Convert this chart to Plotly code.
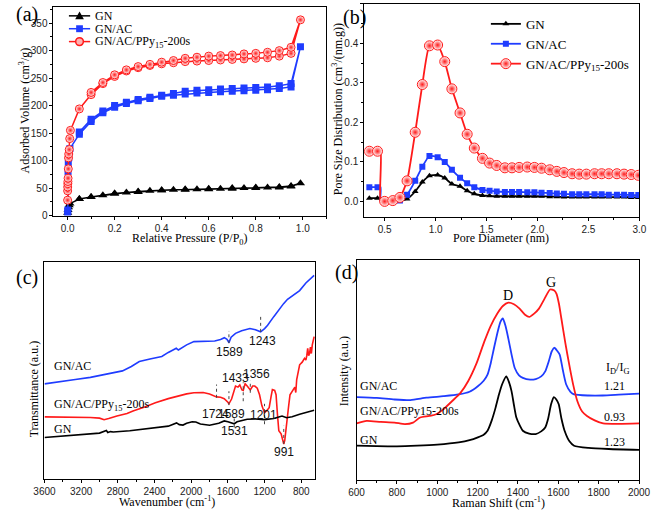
import plotly.graph_objects as go

W, H = 661, 515
SERIF = "Liberation Serif"
SANS = "Liberation Sans"
BLACK, BLUE, RED = "#000000", "#1f3cff", "#ff1a1a"

# ---------------- (a) N2 isotherms ----------------
gn_p = [0.0005, 0.002, 0.004, 0.007, 0.01, 0.05, 0.1, 0.15, 0.2, 0.25, 0.3, 0.35, 0.4, 0.45, 0.5, 0.55, 0.6,
        0.65, 0.7, 0.75, 0.8, 0.85, 0.9, 0.95, 0.99, 0.95, 0.9, 0.8, 0.7, 0.6, 0.5, 0.4, 0.3, 0.2, 0.1, 0.05]
gn_v = [5, 10, 15, 19, 22, 30, 34, 37, 40, 42, 43, 45, 46, 47, 47, 48, 48,
        49, 49, 50, 50, 51, 51, 53, 59, 54, 52, 51, 50, 49, 48, 46, 44, 40, 34, 30]
ac_p = [0.0003, 0.001, 0.002, 0.003, 0.005, 0.007, 0.01, 0.05, 0.1, 0.15, 0.2, 0.25, 0.3, 0.35, 0.4, 0.45,
        0.5, 0.55, 0.6, 0.65, 0.7, 0.75, 0.8, 0.85, 0.9, 0.95, 0.99,
        0.95, 0.9, 0.85, 0.8, 0.75, 0.7, 0.65, 0.6, 0.55, 0.5, 0.45, 0.4, 0.35, 0.3, 0.25, 0.2, 0.15, 0.1, 0.05]
ac_v = [5, 10, 80, 95, 105, 115, 122, 148, 171, 187, 197, 204, 209, 213, 217, 219,
        221, 223, 224, 225, 226, 227, 228, 229, 231, 234, 307,
        240, 236, 234, 233, 232, 231, 230, 229, 228, 226, 222, 219, 215, 211, 206, 200, 190, 175, 152]
pp_p = [0.0001, 0.0003, 0.0006, 0.001, 0.0015, 0.002, 0.003, 0.004, 0.005, 0.007, 0.009, 0.012, 0.05, 0.1,
        0.15, 0.2, 0.25, 0.3, 0.35, 0.4, 0.45, 0.5, 0.55, 0.6, 0.65, 0.7, 0.75, 0.8, 0.85, 0.9, 0.95, 0.99,
        0.95, 0.9, 0.85, 0.8, 0.75, 0.7, 0.65, 0.6, 0.55, 0.5, 0.45, 0.4, 0.35, 0.3, 0.25, 0.2, 0.15, 0.1]
pp_v = [28, 45, 52, 58, 62, 68, 85, 105, 112, 120, 140, 155, 194, 220,
        240, 253, 263, 269, 273, 276, 278, 280, 281, 282, 283, 284, 285, 286, 287, 290, 295, 356,
        306, 300, 297, 295, 294, 292, 291, 290, 288, 286, 282, 279, 275, 271, 265, 256, 242, 224]
names_a = ["GN", "GN/AC", "GN/AC/PPy<sub>15</sub>-200s"]

# ---------------- (b) pore size distribution ----------------
pore_d = [0.35, 0.43, 0.50, 0.58, 0.65, 0.72, 0.80, 0.87, 0.94, 1.02, 1.09, 1.16, 1.24, 1.31, 1.38, 1.46,
          1.53, 1.60, 1.68, 1.75, 1.82, 1.90, 1.97, 2.04, 2.12, 2.19, 2.26, 2.34, 2.41, 2.48, 2.56, 2.63,
          2.70, 2.78, 2.85, 2.92, 2.99]
psd_pp = [0.127, 0.127, 0.000, 0.002, 0.010, 0.052, 0.175, 0.296, 0.394, 0.396, 0.354, 0.285, 0.224, 0.170,
          0.135, 0.109, 0.097, 0.091, 0.085, 0.085, 0.086, 0.087, 0.086, 0.084, 0.080, 0.076, 0.073, 0.070,
          0.069, 0.069, 0.070, 0.070, 0.070, 0.070, 0.069, 0.068, 0.066]
psd_ac = [0.036, 0.036, 0.000, 0.000, 0.002, 0.017, 0.052, 0.088, 0.115, 0.112, 0.100, 0.080, 0.060, 0.046,
          0.036, 0.029, 0.027, 0.025, 0.024, 0.024, 0.024, 0.023, 0.023, 0.022, 0.021, 0.020, 0.019, 0.018,
          0.018, 0.018, 0.018, 0.018, 0.017, 0.017, 0.017, 0.016, 0.016]
psd_gn = [0.008, 0.008, 0.000, 0.000, 0.002, 0.006, 0.025, 0.049, 0.065, 0.067, 0.059, 0.044, 0.038, 0.027,
          0.019, 0.015, 0.014, 0.013, 0.013, 0.013, 0.013, 0.013, 0.013, 0.013, 0.012, 0.012, 0.011, 0.011,
          0.011, 0.011, 0.011, 0.011, 0.011, 0.011, 0.011, 0.010, 0.010]
step_d = 0.46

# ---------------- (c) FTIR ----------------
ir_ac_wn = [3600, 3400, 3264, 3100, 2915, 2750, 2653, 2566, 2450, 2321, 2250, 2163, 2140, 2110, 2050, 1971,
            1850, 1744, 1680, 1639, 1610, 1589, 1565, 1517, 1450, 1360, 1300, 1243, 1200, 1167, 1100, 1040,
            993, 950, 900, 818, 750, 700, 660]
ir_ac = [44, 45, 46, 47, 48.5, 50, 52, 54.3, 55.5, 56.6, 58.5, 60.4, 59.6, 60.5, 62, 63.5,
         63.6, 63.8, 64.5, 65.3, 64.5, 63.0, 65.5, 67.3, 68.5, 69.5, 69, 68.0, 69.5, 71, 75, 78.5,
         81, 83, 84.5, 87, 90.5, 92.5, 94]
ir_pp_wn = [3600, 3300, 3100, 3000, 2950, 2900, 2810, 2700, 2635, 2500, 2391, 2250, 2150, 2050, 1971, 1870,
            1800, 1724, 1680, 1640, 1600, 1589, 1560, 1530, 1517, 1490, 1470, 1447, 1433, 1420, 1412, 1390,
            1370, 1356, 1330, 1307, 1280, 1255, 1230, 1201, 1180, 1150, 1130, 1115, 1090, 1075, 1060, 1045,
            1020, 1000, 991, 980, 964, 940, 923, 905, 890, 870, 860, 850, 818, 790, 765, 750, 740, 730,
            720, 710, 700, 690, 680, 660]
ir_pp = [28.8, 28.8, 28.5, 28.2, 27.5, 28, 29.2, 30.3, 31.5, 33.5, 35.3, 37.2, 38.4, 39.4, 39.9, 40,
         39.3, 38, 37.8, 37.2, 35.5, 34.8, 37, 41.5, 43, 42.5, 43.5, 41.2, 41, 43, 44, 43,
         42, 41.2, 43, 43, 42, 39, 34, 30.7, 31.5, 33, 38, 41.4, 41, 39, 30, 22.4,
         21, 17.5, 16.3, 18, 25.4, 33, 39, 40, 41, 42.5, 40, 46, 52.8, 54, 55.8, 55, 57, 60.4,
         57, 58, 61, 58, 62, 65.8]
ir_gn_wn = [3600, 3300, 3000, 2925, 2910, 2880, 2850, 2670, 2500, 2390, 2250, 2160, 2130, 2090, 2050, 1990,
            1950, 1900, 1800, 1700, 1640, 1600, 1560, 1531, 1500, 1390, 1300, 1200, 1100, 1010, 960, 900,
            818, 700, 660]
ir_gn = [19.3, 20.2, 21.3, 22.5, 21.6, 22, 21.8, 22.4, 23.2, 23.9, 24.5, 26, 25.2, 25, 25.8, 26.5,
         26.4, 25.5, 24.9, 25.8, 26.9, 26.5, 26, 25.6, 26.5, 27.7, 27.8, 27.5, 28, 29.2, 28.4, 28.8,
         30, 31.3, 31.8]
peak_wn = [1589, 1243, 1724, 1589, 1433, 1356, 1201, 991, 1531]
peak_top = [68.4, 74.9, 43.7, 40.6, 44.7, 45.5, 34.8, 24.7, 28.9]
peak_bot = [62.7, 68.0, 37.6, 34.2, 36.0, 39.9, 25.4, 16.3, 23.9]
peak_lbl = ["1589", "1243", "1724", "1589", "1433", "1356", "1201", "991", "1531"]
lbl_wn = [1586, 1219, 1730, 1559, 1517, 1290, 1213, 993, 1528]
lbl_y = [58.9, 63.8, 30.3, 30.3, 46.7, 48.5, 29.7, 12.5, 22.4]

# ---------------- (d) Raman ----------------
ra_ac_x = [600, 700, 788, 867, 947, 1030, 1106, 1160, 1201, 1230, 1249, 1265, 1281, 1300, 1313, 1325, 1338,
           1352, 1368, 1384, 1405, 1424, 1460, 1488, 1515, 1535, 1553, 1567, 1580, 1595, 1607, 1622, 1639,
           1660, 1678, 1750, 1820, 1900, 2000]
ra_ac = [37.6, 37.2, 36.5, 36.2, 37.3, 38, 38.8, 40, 42.5, 45, 47.8, 53, 59.8, 67.5, 71.8, 73.3, 70,
         64.3, 57, 50.8, 47.5, 46.3, 45.5, 45.8, 47, 49.3, 54, 58.3, 60, 58.5, 56.8, 50, 43.3,
         40, 38.8, 38.3, 38.3, 38.7, 39.2]
ra_pp_x = [600, 650, 720, 788, 840, 880, 915, 960, 995, 1030, 1074, 1115, 1153, 1195, 1233, 1265, 1297,
           1325, 1352, 1380, 1408, 1435, 1456, 1480, 1504, 1530, 1559, 1580, 1591, 1603, 1615, 1635, 1654,
           1674, 1694, 1718, 1742, 1780, 1822, 1900, 2000]
ra_pp = [25.6, 26.8, 26.3, 26, 25.3, 26, 28.3, 29, 29.8, 32, 35.8, 39.5, 44.8, 53, 62.8, 70, 75.5,
         79, 80.5, 79.8, 77.8, 75, 74, 75.5, 77.8, 82, 86.5, 86, 84.5, 80, 73.3, 62, 52.3,
         43, 35.8, 31, 29, 27, 25.6, 25.4, 25.6]
ra_gn_x = [600, 700, 800, 900, 1000, 1106, 1160, 1201, 1230, 1249, 1270, 1289, 1305, 1321, 1342, 1355, 1368,
           1380, 1392, 1410, 1424, 1455, 1488, 1515, 1535, 1550, 1564, 1578, 1590, 1602, 1615, 1631, 1655,
           1678, 1750, 1850, 2000]
ra_gn = [15.5, 15.3, 15.2, 15.5, 16, 17, 18, 19.3, 20.5, 22.3, 27, 32.8, 38.5, 43.3, 47, 44.5, 40.3,
         34, 28.3, 24.5, 22.3, 21, 20.8, 22, 23.8, 28, 34.3, 37.6, 36.5, 34.3, 28, 22.3, 17.5,
         15.5, 14.5, 14, 13.6]
idig_vals = ["1.21", "0.93", "1.23"]


def px(x):
    return x / W


def py(y):
    return 1 - y / H


fig = go.Figure()

# (a)
sty_a = [
    (BLACK, dict(symbol="triangle-up", size=8, color=BLACK)),
    (BLUE, dict(symbol="square", size=7, color=BLUE)),
    (RED, dict(symbol="circle", size=8, color="#ffffff", gradient=dict(type="radial", color=RED),
               line=dict(color=RED, width=1))),
]
for name, xs, ys, (col, mk) in zip(names_a, [gn_p, ac_p, pp_p], [gn_v, ac_v, pp_v], sty_a):
    fig.add_trace(go.Scatter(x=xs, y=ys, mode="lines+markers", name=name, showlegend=False,
                             line=dict(color=col, width=1.5), marker=mk, xaxis="x", yaxis="y"))

# manual legend for (a): key line + symbol (shapes) and text
leg_rows = [16, 29, 42]
for i, (name, yrow) in enumerate(zip(names_a, leg_rows)):
    col = sty_a[i][0]
    fig.add_shape(type="line", xref="paper", yref="paper", x0=px(60), x1=px(82), y0=py(yrow), y1=py(yrow),
                  line=dict(color=col, width=1.5))
    cx, cy = 71, yrow
    if i == 0:
        path = f"M {px(cx - 4.5)},{py(cy + 3.5)} L {px(cx + 4.5)},{py(cy + 3.5)} L {px(cx)},{py(cy - 4.5)} Z"
        fig.add_shape(type="path", xref="paper", yref="paper", path=path, fillcolor=BLACK,
                      line=dict(color=BLACK, width=0))
    elif i == 1:
        fig.add_shape(type="rect", xref="paper", yref="paper", x0=px(cx - 3.5), x1=px(cx + 3.5),
                      y0=py(cy + 3.5), y1=py(cy - 3.5), fillcolor=BLUE, line=dict(color=BLUE, width=0))
    else:
        fig.add_shape(type="circle", xref="paper", yref="paper", x0=px(cx - 4), x1=px(cx + 4),
                      y0=py(cy + 4), y1=py(cy - 4), fillcolor="#ffb0b0", line=dict(color=RED, width=1.5))
    fig.add_annotation(x=px(85), y=py(yrow), xref="paper", yref="paper", text=name, showarrow=False,
                       xanchor="left", yanchor="middle", font=dict(family=SERIF, size=12, color="black"))

# (b)
msty = [
    dict(symbol="triangle-up", size=6, color=BLACK),
    dict(symbol="square", size=6, color=BLUE),
    dict(symbol="circle", size=10, color="#ffffff", gradient=dict(type="radial", color=RED),
         line=dict(color=RED, width=1)),
]
for name, ys, mk, col in zip(names_a, [psd_gn, psd_ac, psd_pp], msty, [BLACK, BLUE, RED]):
    lx = pore_d[:2] + [step_d, step_d] + pore_d[2:]
    ly = ys[:2] + [ys[1], ys[2]] + ys[2:]
    fig.add_trace(go.Scatter(x=lx, y=ly, mode="lines", line=dict(color=col, width=1.8, shape="spline",
                                                                smoothing=0.5),
                             showlegend=False, xaxis="x2", yaxis="y2"))
    fig.add_trace(go.Scatter(x=pore_d, y=ys, mode="markers", marker=mk, showlegend=False,
                             xaxis="x2", yaxis="y2"))
    fig.add_trace(go.Scatter(x=[None], y=[None], mode="lines+markers", name=name,
                             line=dict(color=col, width=1.8), marker=mk,
                             xaxis="x2", yaxis="y2", legend="legend2"))

# (c)
for xs, ys, col in [(ir_ac_wn, ir_ac, BLUE), (ir_pp_wn, ir_pp, RED), (ir_gn_wn, ir_gn, BLACK)]:
    fig.add_trace(go.Scatter(x=xs, y=ys, mode="lines", line=dict(color=col, width=1.6),
                             showlegend=False, xaxis="x3", yaxis="y3"))
for wn, t, b in zip(peak_wn, peak_top, peak_bot):
    fig.add_shape(type="line", xref="x3", yref="y3", x0=wn, x1=wn, y0=b, y1=t,
                  line=dict(color="#444444", width=1, dash="dot"))
for lbl, wx, wy in zip(peak_lbl, lbl_wn, lbl_y):
    fig.add_annotation(x=wx, y=wy, xref="x3", yref="y3", text=lbl, showarrow=False,
                       font=dict(family=SANS, size=12, color="#111111"))

# (d)
for xs, ys, col in [(ra_ac_x, ra_ac, BLUE), (ra_pp_x, ra_pp, RED), (ra_gn_x, ra_gn, BLACK)]:
    fig.add_trace(go.Scatter(x=xs, y=ys, mode="lines", line=dict(color=col, width=1.8, shape="spline",
                                                                    smoothing=0.6),
                             showlegend=False, xaxis="x4", yaxis="y4"))

axis_common = dict(showline=True, linecolor="black", linewidth=1, mirror=True, ticks="outside",
                   ticklen=3, tickcolor="black", showgrid=False, zeroline=False,
                   tickfont=dict(family=SANS, size=10, color="#222222"))
axis_noticks = {k: v for k, v in axis_common.items() if k != "ticks"}

fig.update_layout(
    width=W, height=H, margin=dict(l=0, r=0, t=0, b=0),
    paper_bgcolor="white", plot_bgcolor="white",
    xaxis=dict(domain=[px(44), px(326.7)], range=[-0.06, 1.1], anchor="y", dtick=0.2, tick0=0,
               tickformat=".1f", minor=dict(ticks="outside", ticklen=2, dtick=0.1), **axis_common),
    yaxis=dict(domain=[py(217.7), py(6.7)], range=[0, 380], anchor="x", dtick=50,
               minor=dict(ticks="outside", ticklen=2, dtick=25), **axis_common),
    xaxis2=dict(domain=[px(366), px(651)], range=[0.3, 3.0], anchor="y2", dtick=0.5, tick0=0,
                tickformat=".1f", minor=dict(ticks="outside", ticklen=2, dtick=0.25), **axis_common),
    yaxis2=dict(domain=[py(219.3), py(4)], range=[-0.04, 0.5], anchor="x2", dtick=0.1, tick0=0,
                tickformat=".1f", minor=dict(ticks="outside", ticklen=2, dtick=0.05), **axis_common),
    xaxis3=dict(domain=[px(34.7), px(315)], range=[3600, 650], anchor="y3", dtick=400, tick0=0,
                minor=dict(ticks="outside", ticklen=2, dtick=200), **axis_common),
    yaxis3=dict(domain=[py(484), py(265)], range=[0, 100], anchor="x3", showticklabels=False,
                ticks="", **axis_noticks),
    xaxis4=dict(domain=[px(358), px(650.7)], range=[600, 2000], anchor="y4", dtick=200, tick0=0,
                minor=dict(ticks="outside", ticklen=2, dtick=100), **axis_common),
    yaxis4=dict(domain=[py(484.5), py(262.3)], range=[0, 100], anchor="x4", showticklabels=False,
                ticks="", **axis_noticks),
    legend2=dict(x=px(492), y=py(9), xanchor="left", yanchor="top", bgcolor="rgba(0,0,0,0)",
                 font=dict(family=SERIF, size=13, color="black"), tracegroupgap=0),
)

ann = [
    # panel letters
    ("(a)", 3, 15, 20, SERIF, 0, "left"),
    ("(b)", 342, 18, 20, SERIF, 0, "left"),
    ("(c)", 3, 280, 20, SERIF, 0, "left"),
    ("(d)", 334, 275, 20, SERIF, 0, "left"),
    # axis titles
    ("Adsorbed Volume (cm<sup>3</sup>/g)", 14, 112, 12, SERIF, -90, "center"),
    ("Relative Pressure (P/P<sub>0</sub>)", 185, 241, 12, SERIF, 0, "center"),
    ("Pore Size Distribution (cm<sup>3</sup>/(nm.g))", 339, 110, 12, SERIF, -90, "center"),
    ("Pore Diameter (nm)", 508, 240, 12, SERIF, 0, "center"),
    ("Transmittance (a.u.)", 24, 393, 12, SERIF, -90, "center"),
    ("Wavenumber (cm<sup>-1</sup>)", 162, 506, 12, SERIF, 0, "center"),
    ("Intensity (a.u.)", 345, 375, 12, SERIF, -90, "center"),
    ("Raman Shift (cm<sup>-1</sup>)", 505, 507, 12, SERIF, 0, "center"),
    # panel c sample labels
    ("GN/AC", 42, 370, 12, SERIF, 0, "left"),
    ("GN/AC/PPy<sub>15</sub>-200s", 42, 409, 12, SERIF, 0, "left"),
    ("GN", 42, 433, 12, SERIF, 0, "left"),
    # panel d labels
    ("GN/AC", 359, 390, 12, SERIF, 0, "left"),
    ("GN/AC/PPy15-200s", 359, 415, 12, SERIF, 0, "left"),
    ("GN", 359, 444, 12, SERIF, 0, "left"),
    ("D", 515, 298, 14, SERIF, 0, "center"),
    ("G", 559, 285, 14, SERIF, 0, "center"),
    ("I<sub>D</sub>/I<sub>G</sub>", 628, 372, 12, SERIF, 0, "center"),
    (idig_vals[0], 625, 390, 12, SERIF, 0, "center"),
    (idig_vals[1], 625, 421, 12, SERIF, 0, "center"),
    (idig_vals[2], 625, 446, 12, SERIF, 0, "center"),
]
for text, x, y, size, fam, ang, anc in ann:
    fig.add_annotation(x=px(x), y=py(y), xref="paper", yref="paper", text=text, showarrow=False,
                       textangle=ang, xanchor=anc, yanchor="middle",
                       font=dict(family=fam, size=size, color="black"))

fig.write_html("out.html", config={"displayModeBar": False},
               post_script="document.body.style.margin='0';")
